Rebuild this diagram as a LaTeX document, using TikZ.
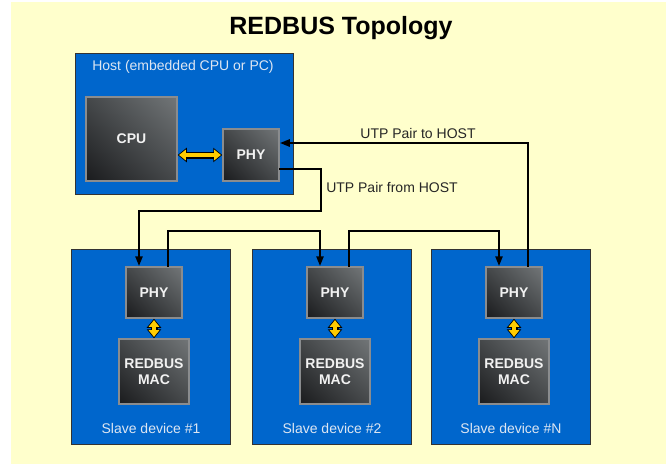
\documentclass[tikz,border=0pt]{standalone}
\usepackage{fontspec}
\setmainfont{Liberation Sans}
\usetikzlibrary{arrows.meta}
\usetikzlibrary{shadings}

\definecolor{paper}{HTML}{FFFFCC}
\definecolor{boxblue}{HTML}{0066CC}
\definecolor{chipdark}{HTML}{1A1B1D}
\definecolor{chipmid}{HTML}{45484A}
\definecolor{chiplight}{HTML}{727678}
\definecolor{chipedge}{HTML}{8A8C8E}
\definecolor{pale}{HTML}{DDE6F2}
\definecolor{fatyellow}{HTML}{FFCC00}

\begin{document}
\begin{tikzpicture}[x=1pt, y=-1pt,
		bluebox/.style={draw=black!80, fill=boxblue, line width=1pt, anchor=north west, inner sep=0pt},
		chip/.style={draw=chipedge, line width=1.5pt, inner sep=0pt, align=center,
			font=\bfseries\fontsize{14}{16}\selectfont, text=white!95!black,
			upper left=chipmid, upper right=chiplight, lower left=chipdark, lower right=chipmid},
		pale label/.style={text=pale, font=\fontsize{14}{16}\selectfont},
		wire label/.style={text=black!85, font=\fontsize{14}{16}\selectfont},
		wire/.style={line width=2.4pt, line cap=rect, -{Triangle[length=10pt, width=7pt]}},
		fatout/.style={line width=7pt, black, {Triangle[length=9pt, width=14pt]}-{Triangle[length=9pt, width=14pt]}},
		fatin/.style={line width=4.6pt, fatyellow, shorten <=1.3pt, shorten >=1.3pt, {Triangle[length=6.8pt, width=10.4pt]}-{Triangle[length=6.8pt, width=10.4pt]}}
	]
	\fill[white] (0,0) rectangle (666,464);
	\fill[paper] (11,2) rectangle (666,464);
	\useasboundingbox (0,0) rectangle (666,464);

	\node[font=\bfseries\fontsize{25}{28}\selectfont] (title) at (341,28) {REDBUS Topology};

	\node[bluebox, minimum width=218pt, minimum height=141pt] (host) at (75,53) {};
	\node[pale label] (hostlbl) at (183,67) {Host (embedded CPU or PC)};
	\node[chip, minimum width=91pt, minimum height=84pt] (cpu) at (131.5,139) {CPU};
	\node[chip, minimum width=56pt, minimum height=52pt] (hphy) at (251,155) {PHY};
	\draw[fatout] (cpu.east |- hphy.west) -- (hphy.west);
	\draw[fatin] (cpu.east |- hphy.west) -- (hphy.west);

	\foreach \i/\dx/\num in {1/0/1, 2/181/2, 3/360/N} {
		\node[bluebox, minimum width=159pt, minimum height=195pt] (slave\i) at (71+\dx,249) {};
		\node[chip, minimum width=56pt, minimum height=51pt] (phy\i) at (154+\dx,292.5) {PHY};
		\node[chip, minimum width=70pt, minimum height=65pt] (mac\i) at (154+\dx,371.5) {REDBUS\\MAC};
		\node[pale label] (slavelbl\i) at (151+\dx,428) {Slave device \#\num};
		\draw[fatout] (phy\i.south) -- (mac\i.north);
		\draw[fatin] (phy\i.south) -- (mac\i.north);
	}

	\draw[wire] ([yshift=13pt]hphy.south east) -| (321,211) -| ([xshift=-15pt]phy1.north);
	\draw[wire] ([xshift=14pt]phy1.north) -- ++(0,-35) -| ([xshift=-15pt]phy2.north);
	\draw[wire] ([xshift=14pt]phy2.north) -- ++(0,-35) -| ([xshift=-15pt]phy3.north);
	\draw[wire] ([xshift=14pt]phy3.north) |- ([yshift=12pt]hphy.east);

	\node[wire label] (tolbl) at (418,133) {UTP Pair to HOST};
	\node[wire label] (fromlbl) at (392,187) {UTP Pair from HOST};
\end{tikzpicture}
\end{document}
